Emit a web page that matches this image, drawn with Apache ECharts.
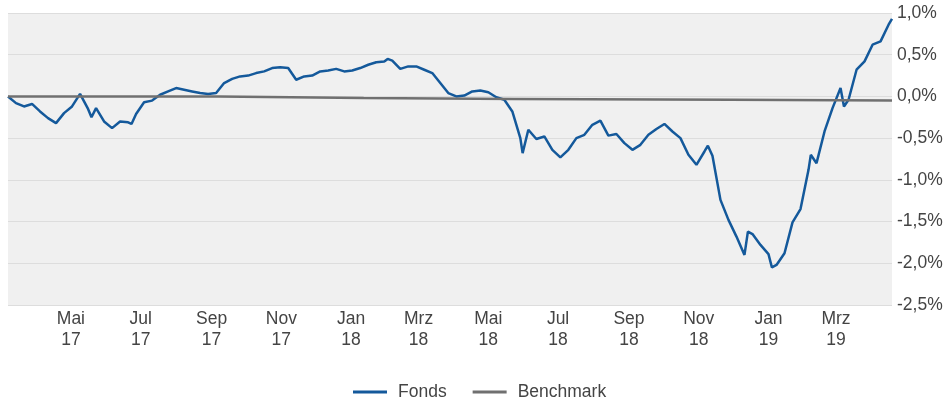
<!DOCTYPE html>
<html><head><meta charset="utf-8">
<script src="https://cdn.jsdelivr.net/npm/echarts@6/dist/echarts.min.js"></script>
<style>html,body{margin:0;padding:0;background:#fff}#c{width:946px;height:400px}</style>
</head><body><div id="c"></div>
<script>
const fundDates = [
'2017-03-07','2017-03-14','2017-03-21','2017-03-28','2017-04-04','2017-04-11','2017-04-18','2017-04-25',
'2017-05-02','2017-05-09','2017-05-16','2017-05-19','2017-05-23','2017-05-30','2017-06-06','2017-06-13',
'2017-06-20','2017-06-23','2017-06-27','2017-07-04','2017-07-11','2017-07-18','2017-07-25','2017-08-01',
'2017-08-08','2017-08-15','2017-08-22','2017-08-29','2017-09-05','2017-09-12','2017-09-19','2017-09-26',
'2017-10-03','2017-10-10','2017-10-17','2017-10-24','2017-10-31','2017-11-07','2017-11-14','2017-11-21',
'2017-11-28','2017-12-05','2017-12-12','2017-12-19','2017-12-26','2018-01-02','2018-01-09','2018-01-16',
'2018-01-23','2018-01-30','2018-02-02','2018-02-06','2018-02-13','2018-02-20','2018-02-27','2018-03-06',
'2018-03-13','2018-03-20','2018-03-27','2018-04-03','2018-04-10','2018-04-17','2018-04-24','2018-05-01',
'2018-05-08','2018-05-15','2018-05-22','2018-05-29','2018-05-31','2018-06-05','2018-06-12','2018-06-19',
'2018-06-26','2018-07-03','2018-07-10','2018-07-17','2018-07-24','2018-07-31','2018-08-07','2018-08-14',
'2018-08-21','2018-08-28','2018-09-04','2018-09-11','2018-09-18','2018-09-25','2018-10-02','2018-10-09',
'2018-10-16','2018-10-23','2018-10-30','2018-11-06','2018-11-09','2018-11-13','2018-11-20','2018-11-27',
'2018-12-04','2018-12-11','2018-12-14','2018-12-18','2018-12-25','2019-01-01','2019-01-04','2019-01-08',
'2019-01-15','2019-01-22','2019-01-29','2019-02-05','2019-02-07','2019-02-12','2019-02-19','2019-02-26',
'2019-03-05','2019-03-08','2019-03-12','2019-03-19','2019-03-26','2019-04-02','2019-04-09','2019-04-16',
'2019-04-19'
];
const fundValues = [
0.00,-0.08,-0.12,-0.09,-0.18,-0.26,-0.32,-0.20,
-0.12,0.03,-0.15,-0.25,-0.14,-0.30,-0.38,-0.30,
-0.31,-0.33,-0.21,-0.07,-0.05,0.02,0.06,0.10,
0.08,0.06,0.04,0.03,0.04,0.16,0.21,0.24,
0.25,0.28,0.30,0.34,0.35,0.34,0.20,0.24,
0.25,0.30,0.31,0.33,0.30,0.31,0.34,0.38,
0.41,0.42,0.45,0.43,0.33,0.36,0.36,0.32,
0.28,0.16,0.04,0.00,0.01,0.06,0.07,0.05,
-0.01,-0.04,-0.18,-0.50,-0.68,-0.40,-0.51,-0.48,
-0.64,-0.73,-0.64,-0.50,-0.46,-0.34,-0.29,-0.47,
-0.45,-0.56,-0.64,-0.58,-0.46,-0.39,-0.33,-0.42,
-0.50,-0.70,-0.82,-0.66,-0.59,-0.71,-1.24,-1.48,
-1.68,-1.90,-1.62,-1.65,-1.78,-1.89,-2.05,-2.02,
-1.88,-1.51,-1.35,-0.88,-0.70,-0.80,-0.42,-0.14,
0.10,-0.12,-0.04,0.32,0.42,0.62,0.66,0.86,
0.93
];
const benchDates = ['2017-03-07','2017-09-07','2018-01-12','2018-05-24','2018-11-29','2019-04-19'];
const benchValues = [0.00,-0.02,-0.03,-0.04,-0.05,-0.05];
const tickDates = ['2017-05-01','2017-07-01','2017-09-01','2017-11-01','2018-01-01','2018-03-01',
                   '2018-05-01','2018-07-01','2018-09-01','2018-11-01','2019-01-01','2019-03-01'];
const tickMonths = ['Mai','Jul','Sep','Nov','Jan','Mrz','Mai','Jul','Sep','Nov','Jan','Mrz'];
const tickYears = ['17','17','17','17','18','18','18','18','18','18','19','19'];
const seriesNames = ['Fonds','Benchmark'];

function ts(s){const p=s.split('-').map(Number);return Date.UTC(p[0],p[1]-1,p[2]);}
const tickTs = tickDates.map(ts);
const font = "'Liberation Sans', Arial, sans-serif";

const chart = echarts.init(document.getElementById('c'), null, {renderer:'canvas'});
chart.setOption({
  animation:false,
  backgroundColor:'#ffffff',
  grid:{left:8, top:13, width:884, height:292, show:true, backgroundColor:'#f0f0f0', borderWidth:0},
  legend:{
    left:353, top:383, padding:0, icon:'rect', itemWidth:34, itemHeight:3, itemGap:26,
    textStyle:{fontFamily:font, fontSize:17.5, color:'#444', padding:[0,0,0,6]},
    data:seriesNames
  },
  xAxis:{
    type:'value', min:'dataMin', max:'dataMax', scale:true,
    axisLine:{show:false}, axisTick:{show:false}, splitLine:{show:false},
    axisLabel:{
      customValues:tickTs, margin:4, lineHeight:21,
      fontFamily:font, fontSize:17.5, color:'#444', hideOverlap:false,
      formatter:function(v){const i=tickTs.indexOf(v);return i<0?'':tickMonths[i]+'\n'+tickYears[i];}
    }
  },
  yAxis:{
    type:'value', position:'right', min:-2.5, max:1.0, interval:0.5,
    axisLine:{show:false}, axisTick:{show:false},
    splitLine:{lineStyle:{color:'#dddddd', width:1}},
    axisLabel:{margin:5, fontFamily:font, fontSize:17.5, color:'#444',
      formatter:function(v){return v.toFixed(1).replace('.',',')+'%';}}
  },
  series:[
    {name:seriesNames[0], type:'line', symbol:'none', showSymbol:false, z:2,
     color:'#14599b', lineStyle:{width:2.5, color:'#14599b'},
     data:fundDates.map((d,i)=>[ts(d),fundValues[i]])},
    {name:seriesNames[1], type:'line', symbol:'none', showSymbol:false, step:'end', z:3,
     color:'#707070', lineStyle:{width:2.5, color:'#707070'},
     data:benchDates.map((d,i)=>[ts(d),benchValues[i]])}
  ]
});
</script></body></html>
